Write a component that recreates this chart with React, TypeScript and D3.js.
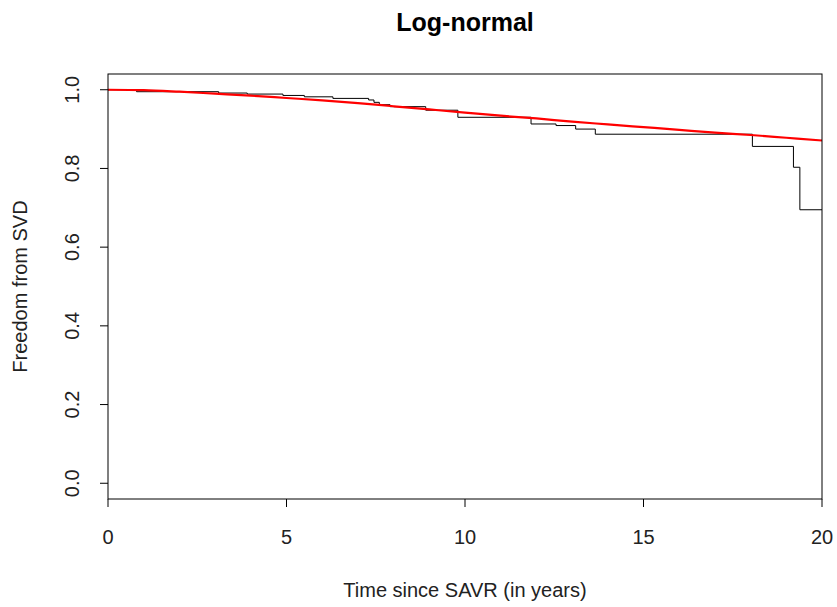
import React from "react";
import * as d3 from "d3";

// Kaplan-Meier estimate (step function)
const kmTime = [0, 0.8, 3.1, 3.9, 4.9, 5.5, 6.3, 7.3, 7.45, 7.6, 7.9, 8.9, 9.8, 11.85, 12.55, 13.1, 13.65, 18.05, 19.2, 19.38];
const kmSurv = [1.0, 0.995, 0.9916, 0.989, 0.9855, 0.982, 0.978, 0.974, 0.968, 0.962, 0.957, 0.948, 0.93, 0.913, 0.909, 0.9, 0.887, 0.856, 0.803, 0.695];
const kmEnd = 20;

// fitted log-normal survival curve
const fitTime = [0, 1, 2, 3, 4, 5, 6, 7, 8, 9, 10, 11, 12, 13, 14, 15, 16, 17, 18, 19, 20];
const fitSurv = [1.0, 0.999, 0.995, 0.99, 0.985, 0.979, 0.973, 0.966, 0.958, 0.95, 0.942, 0.934, 0.927, 0.919, 0.912, 0.905, 0.898, 0.891, 0.885, 0.878, 0.871];

const xTicks = [0, 5, 10, 15, 20];
const yTicks = [0.0, 0.2, 0.4, 0.6, 0.8, 1.0];

const W = 837;
const H = 607;
const m = { left: 108, right: 822, top: 74, bottom: 499 };
const font = "'Liberation Sans', Arial, sans-serif";

export default function App() {
  const x = d3.scaleLinear().domain([0, 20]).range([m.left, m.right]);
  const y = d3.scaleLinear().domain([-0.04, 1.04]).range([m.bottom, m.top]);

  const kmPts: [number, number][] = kmTime.map((t, i) => [t, kmSurv[i]]);
  kmPts.push([kmEnd, kmSurv[kmSurv.length - 1]]);
  const stepLine = d3
    .line<[number, number]>()
    .x(d => x(d[0]))
    .y(d => y(d[1]))
    .curve(d3.curveStepAfter);

  const fitLine = d3
    .line<number>()
    .x((_, i) => x(fitTime[i]))
    .y(d => y(d))
    .curve(d3.curveMonotoneX);

  return (
    <svg width={W} height={H} style={{ position: "absolute", left: 0, top: 0, background: "#fff" }} fontFamily={font}>
      <text x={(m.left + m.right) / 2} y={31} textAnchor="middle" fontSize={25} fontWeight="bold">
        Log-normal
      </text>

      <path d={stepLine(kmPts) ?? ""} fill="none" stroke="#000" strokeWidth={1} />
      <path d={fitLine(fitSurv) ?? ""} fill="none" stroke="#ff0000" strokeWidth={2.2} />

      <rect x={m.left} y={m.top} width={m.right - m.left} height={m.bottom - m.top} fill="none" stroke="#000" strokeWidth={1} />

      {xTicks.map(t => (
        <g key={"x" + t}>
          <line x1={x(t)} x2={x(t)} y1={m.bottom} y2={m.bottom + 8} stroke="#000" />
          <text x={x(t)} y={m.bottom + 45} textAnchor="middle" fontSize={20} fill="#222">
            {t}
          </text>
        </g>
      ))}
      {yTicks.map(t => (
        <g key={"y" + t}>
          <line x1={m.left - 8} x2={m.left} y1={y(t)} y2={y(t)} stroke="#000" />
          <text
            transform={`translate(${m.left - 29},${y(t)}) rotate(-90)`}
            textAnchor="middle"
            fontSize={20}
            fill="#222"
          >
            {t.toFixed(1)}
          </text>
        </g>
      ))}

      <text x={(m.left + m.right) / 2} y={597} textAnchor="middle" fontSize={20} fill="#222">
        Time since SAVR (in years)
      </text>
      <text
        transform={`translate(27,${(m.top + m.bottom) / 2}) rotate(-90)`}
        textAnchor="middle"
        fontSize={20}
        fill="#222"
      >
        Freedom from SVD
      </text>
    </svg>
  );
}
